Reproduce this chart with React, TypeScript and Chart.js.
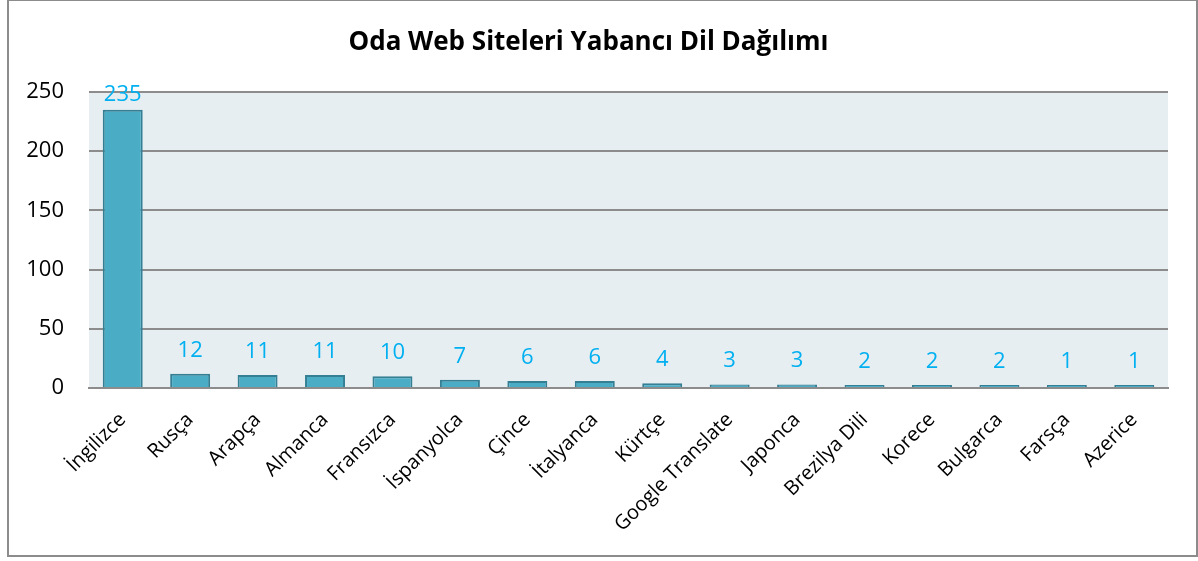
import React, { useEffect, useRef } from "react";
import { Chart, registerables } from "chart.js";

Chart.register(...registerables);

const categories = [
  "İngilizce", "Rusça", "Arapça", "Almanca", "Fransızca", "İspanyolca", "Çince", "İtalyanca",
  "Kürtçe", "Google Translate", "Japonca", "Brezilya Dili", "Korece", "Bulgarca", "Farsça", "Azerice",
];
const values = [235, 12, 11, 11, 10, 7, 6, 6, 4, 3, 3, 2, 2, 2, 1, 1];
const yTicks = [0, 50, 100, 150, 200, 250];
const titleText = "Oda Web Siteleri Yabancı Dil Dağılımı";

const FONT = "'Open Sans', 'Noto Sans', sans-serif";

const bgPlugin = {
  id: "plotBg",
  beforeDraw(chart: any) {
    const { ctx, chartArea } = chart;
    ctx.save();
    ctx.fillStyle = "#E7EEF2";
    ctx.fillRect(chartArea.left, chartArea.top, chartArea.right - chartArea.left, chartArea.bottom - chartArea.top);
    ctx.restore();
  },
};

const labelPlugin = {
  id: "valueLabels",
  afterDatasetsDraw(chart: any) {
    const { ctx, chartArea } = chart;
    const meta = chart.getDatasetMeta(0);
    ctx.save();
    ctx.fillStyle = "#00B0F0";
    ctx.font = `22px ${FONT}`;
    ctx.textAlign = "center";
    ctx.textBaseline = "alphabetic";
    meta.data.forEach((bar: any, i: number) => {
      const y = Math.max(bar.y - 17, chartArea.top + 9);
      ctx.fillText(String(values[i]), bar.x, y);
    });
    ctx.restore();
  },
};

export default function App() {
  const ref = useRef<HTMLCanvasElement>(null);
  useEffect(() => {
    if (!ref.current) return;
    const chart = new Chart(ref.current, {
      type: "bar",
      data: {
        labels: categories,
        datasets: [
          {
            data: values,
            backgroundColor: "#4BACC6",
            borderColor: "#357F94",
            borderWidth: 2,
            minBarLength: 3,
            categoryPercentage: 1,
            barPercentage: 0.593,
          },
        ],
      },
      options: {
        animation: false,
        responsive: false,
        maintainAspectRatio: false,
        layout: { padding: { left: 0, right: 28, top: 0, bottom: 0 } },
        plugins: {
          legend: { display: false },
          tooltip: { enabled: false },
          title: {
            display: true,
            text: titleText,
            color: "#000",
            font: { family: FONT, size: 26, weight: "bold", lineHeight: 1.2 },
            padding: { top: 26.4, bottom: 33.4 },
          },
        },
        scales: {
          x: {
            grid: { display: false, drawTicks: false },
            border: { display: true, color: "#8C8C8C", width: 2 },
            ticks: {
              color: "#000",
              font: { family: FONT, size: 20 },
              minRotation: 45,
              maxRotation: 45,
              autoSkip: false,
              padding: 20,
            },
            afterFit: (s: any) => { s.height = 167; },
          },
          y: {
            min: 0,
            max: 250,
            afterBuildTicks: (s: any) => { s.ticks = yTicks.map((v) => ({ value: v })); },
            grid: { color: "#8C8C8C", lineWidth: 2, drawTicks: false },
            border: { display: false },
            ticks: {
              color: "#000",
              font: { family: FONT, size: 22 },
              padding: 25,
            },
            afterFit: (s: any) => { s.width = 80; },
          },
        },
      },
      plugins: [bgPlugin, labelPlugin],
    });
    return () => chart.destroy();
  }, []);
  return (
    <div
      style={{
        position: "fixed",
        left: 7,
        top: -1,
        width: 1187,
        height: 554,
        border: "2px solid #8C8C8C",
        background: "#fff",
      }}
    >
      <canvas ref={ref} width={1187} height={554} style={{ display: "block" }} />
    </div>
  );
}
